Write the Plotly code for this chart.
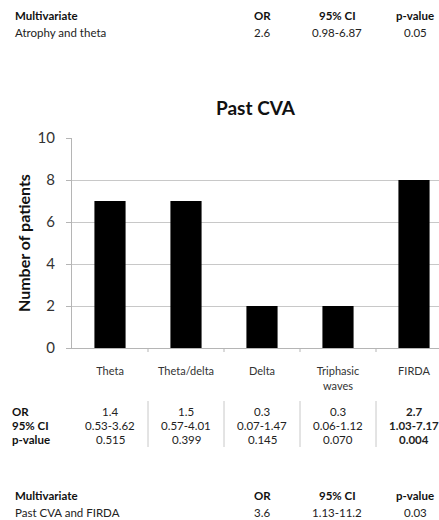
import plotly.graph_objects as go

categories = ["Theta", "Theta/delta", "Delta", "Triphasic<br>waves", "FIRDA"]
patients = [7, 7, 2, 2, 8]

or_vals = ["1.4", "1.5", "0.3", "0.3", "2.7"]
ci_vals = ["0.53-3.62", "0.57-4.01", "0.07-1.47", "0.06-1.12", "1.03-7.17"]
p_vals = ["0.515", "0.399", "0.145", "0.070", "0.004"]
significant = [False, False, False, False, True]

row_labels = ["OR", "95% CI", "p-value"]
multi_headers = ["OR", "95% CI", "p-value"]
top_multi_label = "Atrophy and theta"
top_multi_vals = ["2.6", "0.98-6.87", "0.05"]
bottom_multi_label = "Past CVA and FIRDA"
bottom_multi_vals = ["3.6", "1.13-11.2", "0.03"]

W, H = 439, 520
L, R, T, B = 72, 0, 138, 172
PW = W - L - R
PH = H - T - B
FONT = "Lato"
TS = 11.5


def py(px_y):
    return (H - B - px_y) / PH


def px(px_x):
    return (px_x - L) / PW


fig = go.Figure()
fig.add_trace(go.Bar(
    x=list(range(len(categories))), y=patients,
    marker=dict(color="black", line=dict(width=0)),
    width=0.41, showlegend=False,
))

ann = []
# table rows under the chart
row_y = [411, 425, 439]
for r, lab in enumerate(row_labels):
    ann.append(dict(text=f"<b>{lab}</b>", x=px(10), y=py(row_y[r]), xref="paper", yref="paper",
                    xanchor="left", yanchor="middle", showarrow=False,
                    font=dict(size=TS, color="#111", family=FONT)))
for i in range(len(categories)):
    for r, vals in enumerate([or_vals, ci_vals, p_vals]):
        t = vals[i]
        if significant[i]:
            t = f"<b>{t}</b>"
        ann.append(dict(text=t, x=i, y=py(row_y[r]), xref="x", yref="paper",
                        xanchor="center", yanchor="middle", showarrow=False,
                        font=dict(size=TS, color="#222", family=FONT)))

# multivariate tables
col_x = [262, 337, 415]
for (hy, vy, lab, vals) in [(15, 32, top_multi_label, top_multi_vals),
                             (495, 512, bottom_multi_label, bottom_multi_vals)]:
    ann.append(dict(text="<b>Multivariate</b>", x=px(13), y=py(hy), xref="paper", yref="paper",
                    xanchor="left", yanchor="middle", showarrow=False,
                    font=dict(size=TS, color="#111", family=FONT)))
    ann.append(dict(text=lab, x=px(13), y=py(vy), xref="paper", yref="paper",
                    xanchor="left", yanchor="middle", showarrow=False,
                    font=dict(size=TS, color="#222", family=FONT)))
    for c in range(3):
        ann.append(dict(text=f"<b>{multi_headers[c]}</b>", x=px(col_x[c]), y=py(hy),
                        xref="paper", yref="paper", xanchor="center", yanchor="middle",
                        showarrow=False, font=dict(size=TS, color="#111", family=FONT)))
        ann.append(dict(text=vals[c], x=px(col_x[c]), y=py(vy),
                        xref="paper", yref="paper", xanchor="center", yanchor="middle",
                        showarrow=False, font=dict(size=TS, color="#222", family=FONT)))

# y axis title
ann.append(dict(text="<b>Number of patients</b>", x=px(23), y=0.5, xref="paper", yref="paper",
                textangle=-90, xanchor="center", yanchor="middle", showarrow=False,
                font=dict(size=16, color="#111", family=FONT)))

shapes = []
for i in range(len(categories) - 1):
    shapes.append(dict(type="line", xref="x", yref="paper", x0=i + 0.5, x1=i + 0.5,
                       y0=py(401), y1=py(447), line=dict(color="#c8c8c8", width=1)))

fig.update_layout(
    width=W, height=H,
    margin=dict(l=L, r=R, t=T, b=B),
    paper_bgcolor="white", plot_bgcolor="white",
    font=dict(family=FONT, color="#222"),
    title=dict(text="<b>Past CVA</b>", x=px(255.5), xref="paper", y=1 - 108 / H, yref="container",
               xanchor="center", yanchor="middle", font=dict(size=19, color="#111", family=FONT)),
    xaxis=dict(
        range=[-0.5, -0.5 + PW / 76.0],
        tickmode="array", tickvals=list(range(len(categories))), ticktext=categories,
        showgrid=False, zeroline=False,
        showline=True, linecolor="#b5b5b5", linewidth=1,
        ticks="", tickfont=dict(size=11, color="#333", family=FONT),
        ticklabelstandoff=13,
    ),
    yaxis=dict(
        range=[0, 10], tickvals=[0, 2, 4, 6, 8, 10],
        showgrid=True, gridcolor="#c8c8c8", gridwidth=1,
        zeroline=False, showline=True, linecolor="#b5b5b5", linewidth=1,
        ticks="outside", ticklen=5, tickcolor="#b5b5b5",
        tickfont=dict(size=15, color="#333", family=FONT),
        ticklabelstandoff=8,
    ),
    annotations=ann, shapes=shapes,
)

# boundary tick marks on the x axis
for i in range(len(categories) - 1):
    fig.add_shape(type="line", xref="x", yref="paper", x0=i + 0.5, x1=i + 0.5,
                  y0=0, y1=py(H - B + 4), line=dict(color="#b5b5b5", width=1))

fig.write_html("out.html")
